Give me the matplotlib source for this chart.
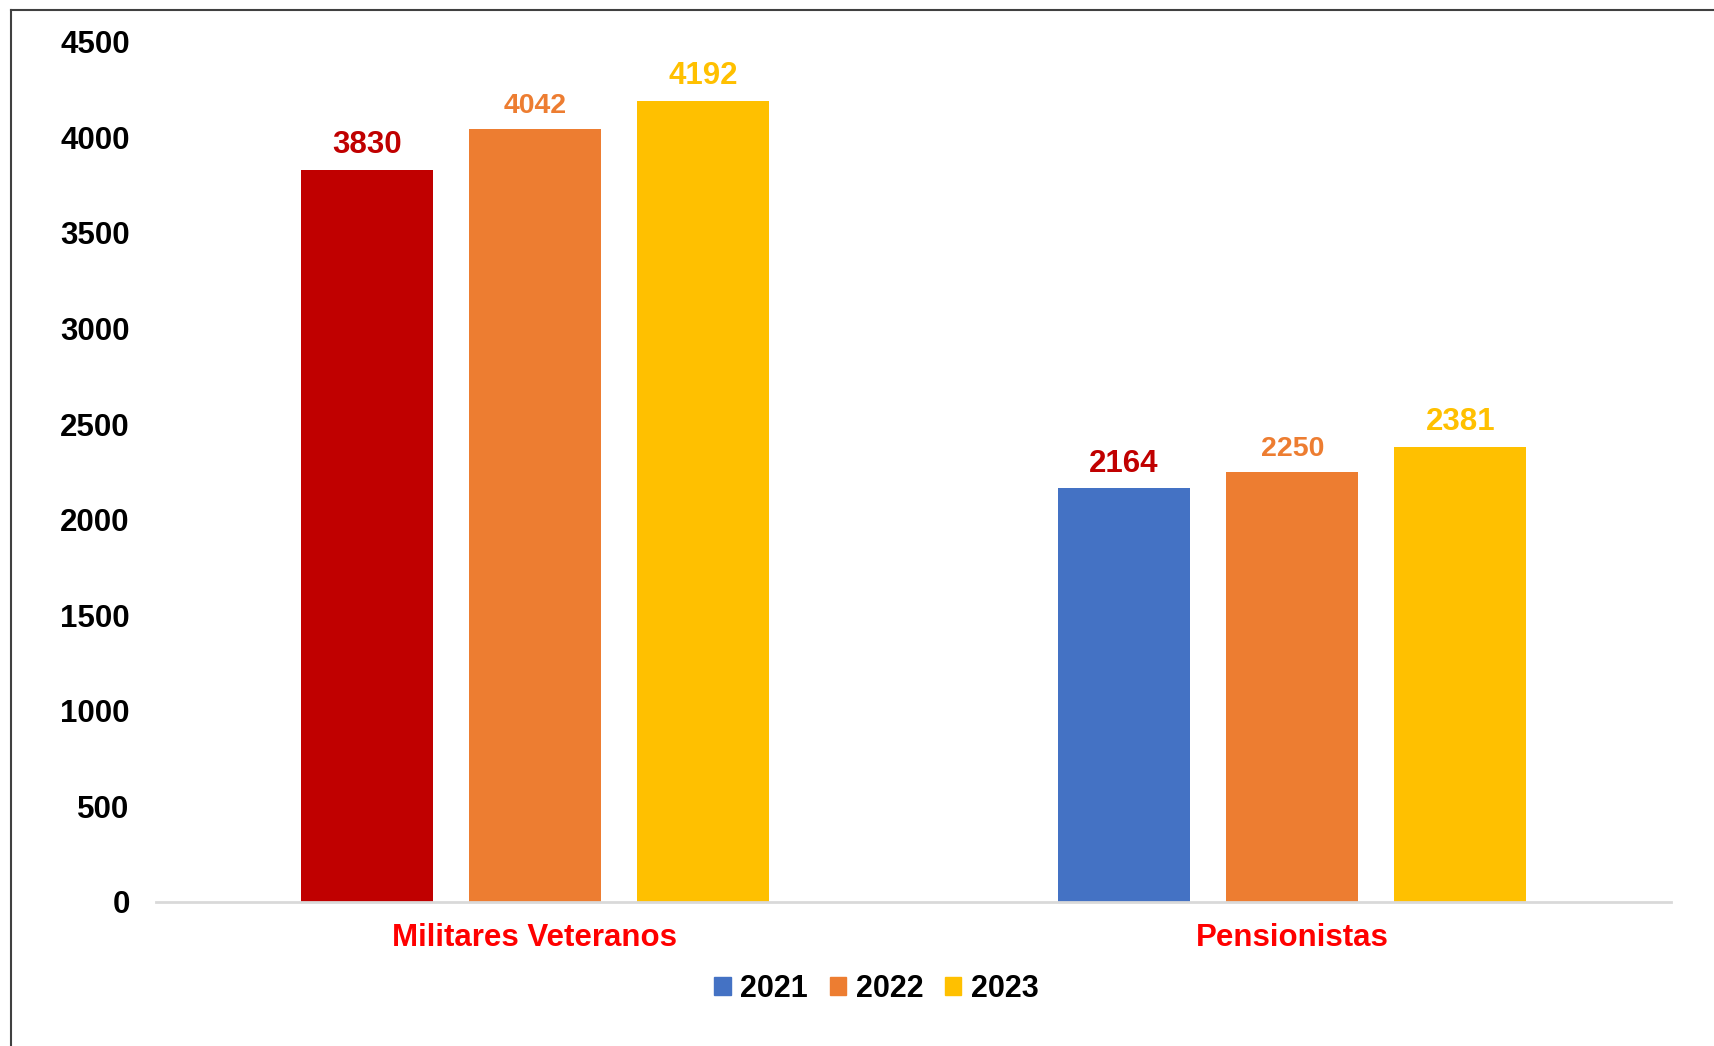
import numpy as np
import matplotlib.pyplot as plt
from matplotlib.lines import Line2D
from matplotlib.patches import Patch

plt.rcParams['font.family'] = ['Liberation Sans', 'DejaVu Sans']
plt.rcParams['font.weight'] = 'bold'

categories = ['Militares Veteranos', 'Pensionistas']
years = ['2021', '2022', '2023']
values = {
    '2021': [3830, 2164],
    '2022': [4042, 2250],
    '2023': [4192, 2381],
}
yticks = [0, 500, 1000, 1500, 2000, 2500, 3000, 3500, 4000, 4500]

YEAR_COLS = {'2021': '#4472C4', '2022': '#ED7D31', '2023': '#FFC000'}
LABEL_COLS = {'2021': '#C00000', '2022': '#ED7D31', '2023': '#FFC000'}
LABEL_SIZE = {'2021': 22.5, '2022': 20.5, '2023': 22.5}

fig = plt.figure(figsize=(17.15, 10.46), dpi=100)
ax = fig.add_axes([0.091, 0.1377, 0.8833, 0.8225])

x = np.arange(len(categories))
width = 0.174
step = 0.222

for i, yr in enumerate(years):
    cols = [YEAR_COLS[yr]] * len(categories)
    if yr == '2021':
        # veterans bar for 2021 is highlighted in dark red
        cols[0] = '#C00000'
    xs = x + (i - 1) * step
    bars = ax.bar(xs, values[yr], width, color=cols, zorder=2)
    for b, v in zip(bars, values[yr]):
        ax.annotate(str(v), (b.get_x() + b.get_width() / 2, v),
                    xytext=(0, 7), textcoords='offset points',
                    ha='center', va='bottom', fontsize=LABEL_SIZE[yr],
                    fontweight='bold', color=LABEL_COLS[yr])

ax.set_xlim(-0.5, 1.5)
ax.set_ylim(0, 4500)
ax.set_yticks(yticks)
ax.set_yticklabels([str(t) for t in yticks], fontsize=22.5, fontweight='bold')
ax.set_xticks(x)
ax.set_xticklabels(categories, fontsize=22.5, fontweight='bold', color='#FF0000')
ax.tick_params(axis='both', length=0)
ax.tick_params(axis='x', pad=15)
ax.tick_params(axis='y', pad=19)

for s in ['top', 'right', 'left']:
    ax.spines[s].set_visible(False)
ax.spines['bottom'].set_color('#D9D9D9')
ax.spines['bottom'].set_linewidth(2)

handles = [Patch(color=YEAR_COLS[yr], label=yr) for yr in years]
fig.legend(handles=handles, loc='center', bbox_to_anchor=(0.511, 0.0545),
           ncol=3, frameon=False, handlelength=0.55,
           handleheight=0.55, handletextpad=0.3, columnspacing=0.7,
           prop={'weight': 'bold', 'size': 22})

# outer frame (left and top edges)
fig.add_artist(Line2D([0.0062, 0.0062], [0, 0.9904], color='#404040',
                      lw=1.5, transform=fig.transFigure))
fig.add_artist(Line2D([0.0062, 1], [0.9904, 0.9904], color='#404040',
                      lw=1.5, transform=fig.transFigure))

plt.savefig('out.png', dpi=100)
